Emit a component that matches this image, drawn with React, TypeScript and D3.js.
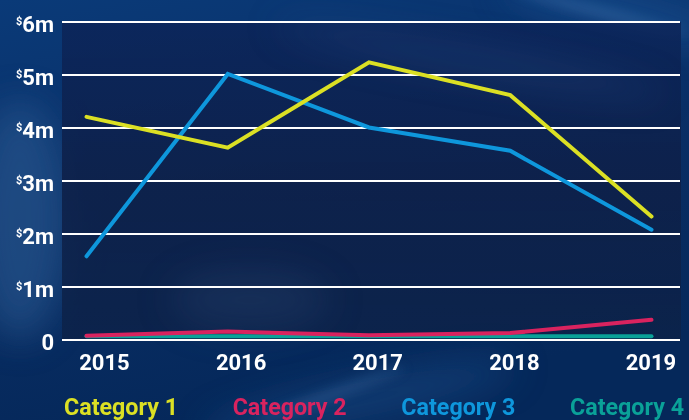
import React from "react";
import * as d3 from "d3";

const years = ["2015", "2016", "2017", "2018", "2019"];
const category1 = [4.21, 3.63, 5.24, 4.62, 2.33];
const category2 = [0.08, 0.16, 0.09, 0.13, 0.38];
const category3 = [1.58, 5.02, 4.01, 3.57, 2.08];
const category4 = [0.07, 0.07, 0.07, 0.07, 0.07];
const seriesNames = ["Category 1", "Category 2", "Category 3", "Category 4"];
const yTicks = [0, 1, 2, 3, 4, 5, 6];

const W = 689;
const H = 420;
const colors = ["#dbe024", "#d9235f", "#0e97dc", "#0aa198"];

export default function App() {
  const x = d3.scalePoint<string>().domain(years).range([86.5, 651.5]);
  const xLabel = d3.scalePoint<string>().domain(years).range([104.5, 651]);
  const y = d3.scaleLinear().domain([0, 6]).range([340, 22]);
  const line = d3
    .line<number>()
    .x((_, i) => x(years[i]) as number)
    .y((d) => y(d));
  const series = [category1, category2, category3, category4];
  const legendX = d3.scalePoint<string>().domain(seriesNames).range([64, 570]);
  const font = "Roboto, 'Noto Sans', sans-serif";

  return (
    <svg
      width={W}
      height={H}
      style={{ position: "fixed", left: 0, top: 0, display: "block" }}
    >
      <defs>
        <linearGradient id="bg" x1="0" y1="0" x2="0.3" y2="1">
          <stop offset="0" stopColor="#0a3a78" />
          <stop offset="0.5" stopColor="#0a2f66" />
          <stop offset="1" stopColor="#05285a" />
        </linearGradient>
        <linearGradient id="panel" x1="0" y1="0" x2="0" y2="1">
          <stop offset="0" stopColor="#0c2458" stopOpacity="0.85" />
          <stop offset="0.5" stopColor="#0e2048" stopOpacity="0.88" />
          <stop offset="1" stopColor="#0d2248" stopOpacity="0.82" />
        </linearGradient>
        <filter id="blur" x="-50%" y="-50%" width="200%" height="200%">
          <feGaussianBlur stdDeviation="18" />
        </filter>
        <filter id="blur2" x="-50%" y="-50%" width="200%" height="200%">
          <feGaussianBlur stdDeviation="6" />
        </filter>
      </defs>
      <rect x={0} y={0} width={W} height={H} fill="url(#bg)" />
      <g filter="url(#blur)" opacity={0.6}>
        <ellipse cx={20} cy={220} rx={50} ry={120} fill="#2a5a92" />
        <ellipse cx={360} cy={400} rx={160} ry={18} fill="#1d4d88" transform="rotate(-12 360 400)" />
        <ellipse cx={620} cy={10} rx={120} ry={20} fill="#1b5596" transform="rotate(12 620 10)" />
      </g>
      <g filter="url(#blur2)" opacity={0.35}>
        <ellipse cx={600} cy={12} rx={90} ry={4} fill="#5b8cc4" transform="rotate(14 600 12)" />
        <ellipse cx={330} cy={395} rx={80} ry={5} fill="#4a78b0" transform="rotate(-20 330 395)" />
      </g>
      <rect x={62} y={22} width={619} height={318} fill="url(#panel)" />
      <g filter="url(#blur)" opacity={0.35}>
        <ellipse cx={470} cy={60} rx={200} ry={14} fill="#2c4f86" transform="rotate(10 470 60)" />
        <ellipse cx={250} cy={300} rx={80} ry={30} fill="#2a4470" />
      </g>

      {yTicks.map((t) => (
        <line
          key={"g" + t}
          x1={62}
          x2={680}
          y1={y(t)}
          y2={y(t)}
          stroke="#ffffff"
          strokeWidth={2}
        />
      ))}
      {yTicks.map((t) => (
        <text
          key={"yl" + t}
          x={54}
          y={y(t) + 10}
          textAnchor="end"
          fill="#ffffff"
          fontFamily={font}
          fontWeight={700}
          fontSize={22}
        >
          {t === 0 ? (
            "0"
          ) : (
            <>
              <tspan fontSize={11} dy={-7}>$</tspan>
              <tspan dy={7}>{t + "m"}</tspan>
            </>
          )}
        </text>
      ))}
      {years.map((yr) => (
        <text
          key={"xl" + yr}
          x={xLabel(yr) as number}
          y={370}
          textAnchor="middle"
          fill="#ffffff"
          fontFamily={font}
          fontWeight={700}
          fontSize={22}
        >
          {yr}
        </text>
      ))}
      {series
        .map((s, i) => ({ s, i }))
        .reverse()
        .map(({ s, i }) => (
          <path
            key={"s" + i}
            d={line(s) as string}
            fill="none"
            stroke={colors[i]}
            strokeWidth={4}
            strokeLinecap="round"
            strokeLinejoin="miter"
          />
        ))}
      {seriesNames.map((n, i) => (
        <text
          key={"lg" + n}
          x={legendX(n) as number}
          y={415}
          fill={colors[i]}
          fontFamily={font}
          fontWeight={700}
          fontSize={24}
          textLength={114}
          lengthAdjust="spacingAndGlyphs"
        >
          {n}
        </text>
      ))}
    </svg>
  );
}
